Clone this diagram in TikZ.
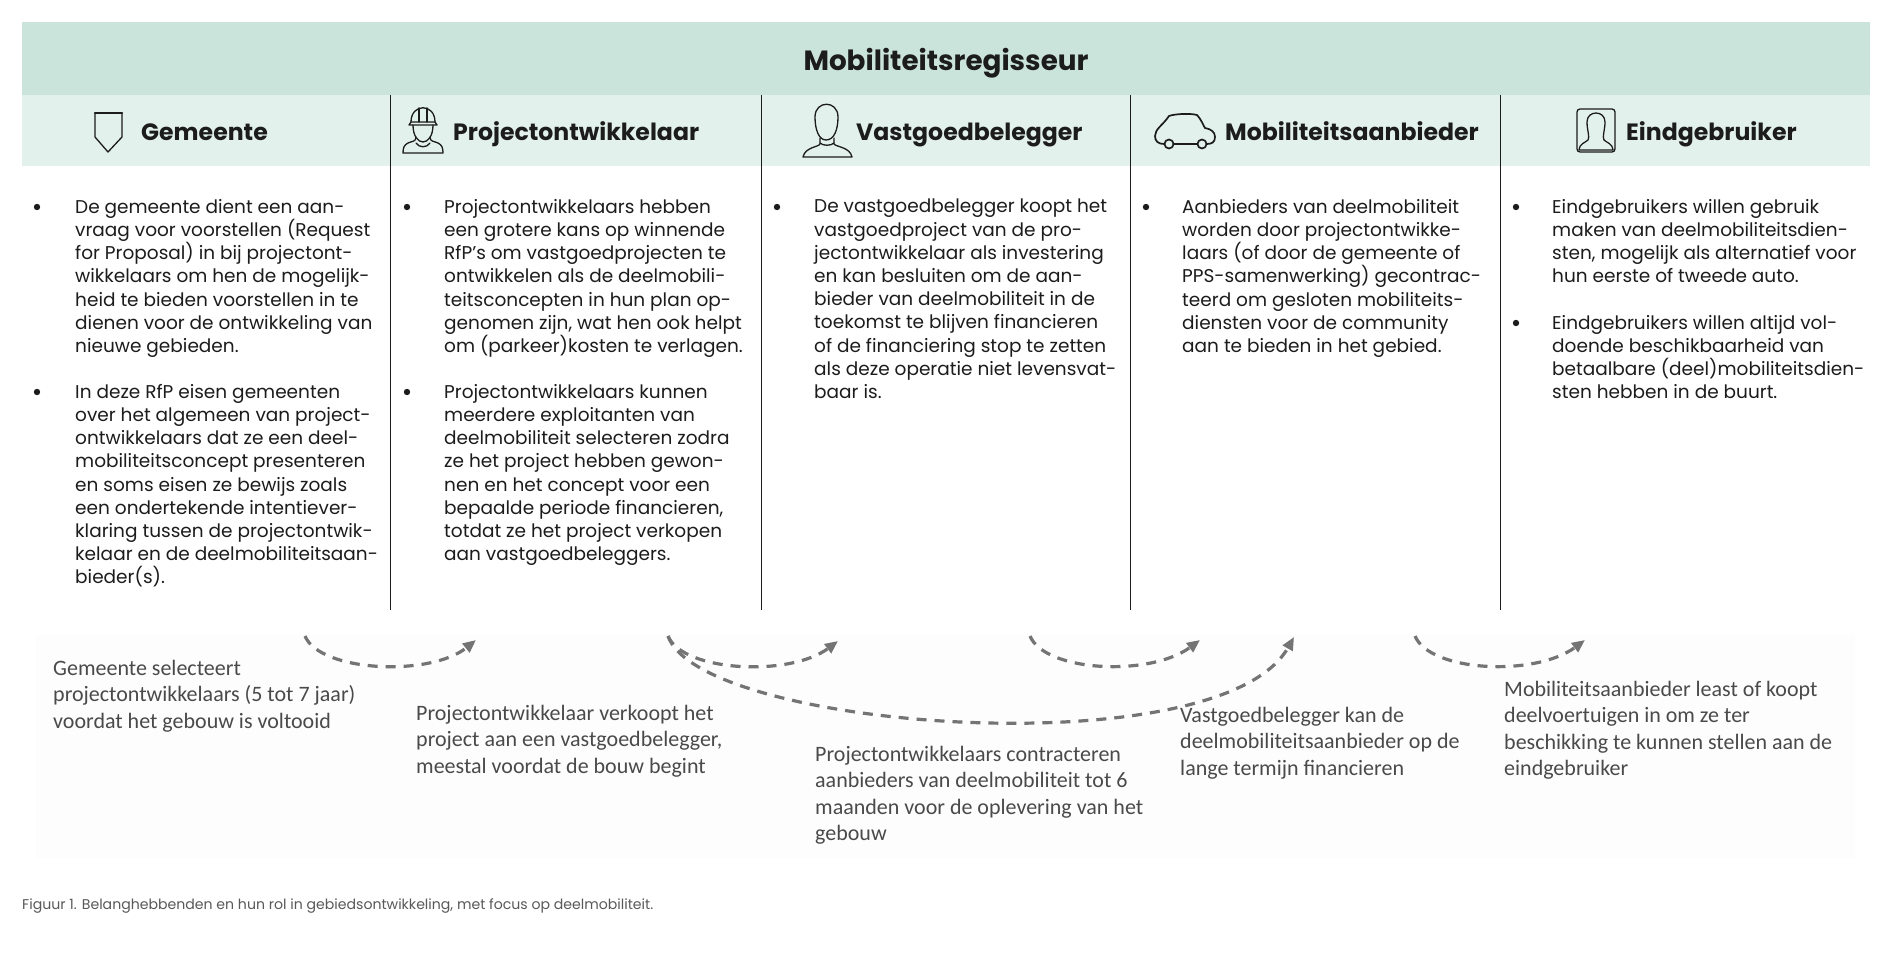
\documentclass[tikz,border=0pt]{standalone}
\usepackage{fontspec}
\setmainfont{Poppins}
\newfontfamily\notefont{Carlito}
\usetikzlibrary{arrows.meta,calc,positioning}
\definecolor{headgreen}{HTML}{CBE4DB}
\definecolor{subgreen}{HTML}{E2F1EB}
\definecolor{inkdark}{HTML}{1C1C1C}
\definecolor{notegray}{HTML}{4A4A4A}
\definecolor{arrowgray}{HTML}{747474}
\begin{document}
\begin{tikzpicture}[x=1pt,y=-1pt,
  coltitle/.style={anchor=base west,inner sep=0pt,text=inkdark,font=\fontsize{23.6}{30}\selectfont\bfseries},
  body/.style={anchor=north west,inner sep=0pt,align=left,text=inkdark,font=\fontsize{18.5}{23.2}\selectfont},
  note/.style={anchor=north west,inner sep=0pt,align=left,text=notegray,font=\notefont\fontsize{22}{26.3}\selectfont},
  dashedarc/.style={draw=arrowgray,line width=3.2pt,dash pattern=on 10pt off 8pt,-{Triangle[length=13pt,width=11pt]}},
  icon/.style={draw=inkdark,line width=1.3pt,line join=round,line cap=round}]
  \useasboundingbox (0,0) rectangle (1896,976);
  % bands
  \fill[white] (0,0) rectangle (1896,976);
  \fill[headgreen] (22,22) rectangle (1870,95);
  \fill[subgreen] (22,95) rectangle (1870,166);
  \fill[black!0.7] (36,635) rectangle (1855,858);
  \foreach \x in {390.5,761.5,1130.5,1500.5}
    \draw[line width=0.9pt,inkdark] (\x,95)--(\x,610);
  \node[inner sep=0pt,text=inkdark,font=\fontsize{27.8}{34}\selectfont\bfseries] (title) at (946,63) {Mobiliteitsregisseur};
  % column titles
  \node[coltitle] (gemeente) at (141,141) {Gemeente};
  \node[coltitle] (ontwikkelaar) at (453,141) {Projectontwikkelaar};
  \node[coltitle] (belegger) at (856,141) {Vastgoedbelegger};
  \node[coltitle] (aanbieder) at (1225,141) {Mobiliteitsaanbieder};
  \node[coltitle] (gebruiker) at (1626,141) {Eindgebruiker};
  % shield
  \draw[icon] (95,113)--(95,137)--(108,152)--(122,137)--(122,113);
  \draw[icon,line width=2.4pt] (95,113)--(122,113);
  % worker
  \draw[icon] (411,122) .. controls (411,103) and (435,103) .. (435,122);
  \draw[icon] (409,125)--(437,125)--(435,122)--(411,122)--cycle;
  \draw[icon] (419,108)--(419,122) (427,108)--(427,122);
  \draw[icon] (413,125) .. controls (413,136) and (418,142) .. (423,142) .. controls (428,142) and (433,136) .. (433,125);
  \draw[icon] (416,137) .. controls (416,142) and (412,141) .. (408,143) .. controls (404,145) and (403,148) .. (403,153)--(443,153) .. controls (443,148) and (442,145) .. (438,143) .. controls (434,141) and (430,142) .. (430,137);
  \draw[icon] (416,143) .. controls (419,148) and (427,148) .. (430,143);
  % investor
  \draw[icon] (815,117) .. controls (815,100) and (838,100) .. (838,117) .. controls (838,130) and (834,140) .. (826,140) .. controls (819,140) and (815,130) .. (815,117);
  \draw[icon] (820,138)--(820,144) .. controls (819,147) and (805,147) .. (803,157)--(852,157) .. controls (850,147) and (836,147) .. (834,144)--(834,138);
  \draw[icon] (820,143) .. controls (823,146) and (831,146) .. (834,143);
  % car
  \draw[icon,line width=1.7pt] (1164,144) .. controls (1158,144) and (1155,141) .. (1155,136) .. controls (1155,129) and (1163,125) .. (1169,116) .. controls (1174,114) and (1190,113) .. (1197,115) .. controls (1201,119) and (1203,125) .. (1205,128) .. controls (1211,129) and (1215,132) .. (1215,137) .. controls (1215,142) and (1212,144) .. (1207,144);
  \draw[icon,line width=1.7pt] (1169,144) circle(4.5);
  \draw[icon,line width=1.7pt] (1202,144) circle(4.5);
  \draw[icon,line width=2.4pt] (1174,144)--(1197,144);
  % user portrait
  \draw[icon,rounded corners=3pt] (1577,109) rectangle (1615,152);
  \draw[icon] (1587,122) .. controls (1587,110) and (1605,110) .. (1605,122) .. controls (1605,130) and (1602,137) .. (1604,140) .. controls (1607,143) and (1612,143) .. (1613,150)--(1579,150) .. controls (1580,143) and (1585,143) .. (1588,140) .. controls (1590,137) and (1587,130) .. (1587,122);
  % bullets
  \foreach \x/\y in {37/207,37/392,407/207,407/392,777/207,1146/207,1516/207,1516/323}
    \fill[inkdark] (\x,\y) circle(3.2);
  % column texts
  \node[body] (gemA) at (75,199) {De gemeente dient een aan-\\vraag voor voorstellen (Request\\for Proposal) in bij projectont-\\wikkelaars om hen de mogelijk-\\heid te bieden voorstellen in te\\dienen voor de ontwikkeling van\\nieuwe gebieden.};
  \node[body] (gemB) at (75,384) {In deze RfP eisen gemeenten\\over het algemeen van project-\\ontwikkelaars dat ze een deel-\\mobiliteitsconcept presenteren\\en soms eisen ze bewijs zoals\\een ondertekende intentiever-\\klaring tussen de projectontwik-\\kelaar en de deelmobiliteitsaan-\\bieder(s).};
  \node[body] (ontA) at (444,199) {Projectontwikkelaars hebben\\een grotere kans op winnende\\RfP’s om vastgoedprojecten te\\ontwikkelen als de deelmobili-\\teitsconcepten in hun plan op-\\genomen zijn, wat hen ook helpt\\om (parkeer)kosten te verlagen.};
  \node[body] (ontB) at (444,384) {Projectontwikkelaars kunnen\\meerdere exploitanten van\\deelmobiliteit selecteren zodra\\ze het project hebben gewon-\\nen en het concept voor een\\bepaalde periode financieren,\\totdat ze het project verkopen\\aan vastgoedbeleggers.};
  \node[body] (belA) at (814,199) {De vastgoedbelegger koopt het\\vastgoedproject van de pro-\\jectontwikkelaar als investering\\en kan besluiten om de aan-\\bieder van deelmobiliteit in de\\toekomst te blijven financieren\\of de financiering stop te zetten\\als deze operatie niet levensvat-\\baar is.};
  \node[body] (aanA) at (1182,199) {Aanbieders van deelmobiliteit\\worden door projectontwikke-\\laars (of door de gemeente of\\PPS-samenwerking) gecontrac-\\teerd om gesloten mobiliteits-\\diensten voor de community\\aan te bieden in het gebied.};
  \node[body] (gebA) at (1552,199) {Eindgebruikers willen gebruik\\maken van deelmobiliteitsdien-\\sten, mogelijk als alternatief voor\\hun eerste of tweede auto.};
  \node[body] (gebB) at (1552,315) {Eindgebruikers willen altijd vol-\\doende beschikbaarheid van\\betaalbare (deel)mobiliteitsdien-\\sten hebben in de buurt.};
  % notes under the arcs
  \node[note] (noteA) at (53,660) {Gemeente selecteert\\projectontwikkelaars (5 tot 7 jaar)\\voordat het gebouw is voltooid};
  \node[note] (noteB) at (416,705) {Projectontwikkelaar verkoopt het\\project aan een vastgoedbelegger,\\meestal voordat de bouw begint};
  \node[note] (noteC) at (815,746) {Projectontwikkelaars contracteren\\aanbieders van deelmobiliteit tot 6\\maanden voor de oplevering van het\\gebouw};
  \node[note] (noteD) at (1180,707) {Vastgoedbelegger kan de\\deelmobiliteitsaanbieder op de\\lange termijn financieren};
  \node[note] (noteE) at (1504,681) {Mobiliteitsaanbieder least of koopt\\deelvoertuigen in om ze ter\\beschikking te kunnen stellen aan de\\eindgebruiker};
  % arcs
  \coordinate (arcAa) at (305,636);
  \coordinate (arcAb) at (476,640);
  \coordinate (arcBa) at (668,636);
  \coordinate (arcBb) at (838,641);
  \coordinate (arcCa) at (668,636);
  \coordinate (arcCb) at (1294,637);
  \coordinate (arcDa) at (1030,636);
  \coordinate (arcDb) at (1200,640);
  \coordinate (arcEa) at (1415,636);
  \coordinate (arcEb) at (1585,640);
  \draw[dashedarc] (arcAa) .. controls (320,672) and (430,677) .. (arcAb);
  \draw[dashedarc] (arcBa) .. controls (683,672) and (790,677) .. (arcBb);
  \draw[dashedarc] (arcCa) .. controls (700,730) and (1220,768) .. (arcCb);
  \draw[dashedarc] (arcDa) .. controls (1045,672) and (1150,677) .. (arcDb);
  \draw[dashedarc] (arcEa) .. controls (1430,672) and (1535,677) .. (arcEb);
  \node[anchor=base west,inner sep=0pt,text=black!65,font=\fontsize{14.1}{16}\selectfont] (caption) at (22,909) {Figuur 1. Belanghebbenden en hun rol in gebiedsontwikkeling, met focus op deelmobiliteit.};
\end{tikzpicture}
\end{document}
